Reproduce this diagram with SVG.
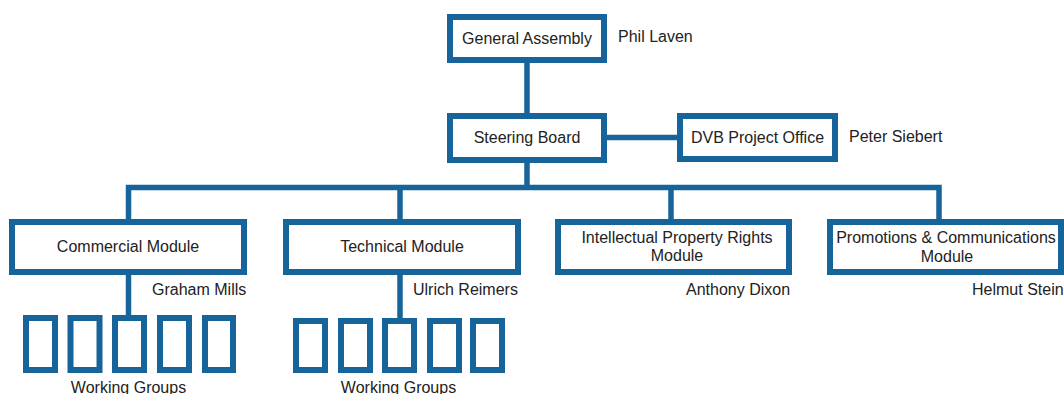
<svg xmlns="http://www.w3.org/2000/svg" width="1064" height="394" viewBox="0 0 1064 394">
<style>
.box{fill:#fff;stroke:#17649a;stroke-width:6}
.wg{fill:#fff;stroke:#17649a;stroke-width:6}
.ln{fill:none;stroke:#17649a;stroke-width:5.5;stroke-linejoin:miter}
text{font-family:"Liberation Sans",Arial,sans-serif;font-size:16px;fill:#222}
.c{text-anchor:middle}
</style>
<rect width="1064" height="394" fill="#fff"/>
<g id="connectors">
<path class="ln" d="M527,63 V113"/>
<path class="ln" d="M607,137.5 H677"/>
<path class="ln" d="M527,163 V187.5"/>
<path class="ln" d="M128.5,220 V187.5 H939 V220"/>
<path class="ln" d="M400,187.5 V220"/>
<path class="ln" d="M671,187.5 V220"/>
<path class="ln" d="M128.5,275 V316"/>
<path class="ln" d="M400,275 V319"/>
</g>
<g id="general-assembly">
<rect class="box" x="450" y="17" width="154" height="43"/>
<text class="c" x="527" y="44">General Assembly</text>
<text x="618" y="42">Phil Laven</text>
</g>
<g id="steering-board">
<rect class="box" x="450" y="116" width="154" height="44"/>
<text class="c" x="527" y="143">Steering Board</text>
</g>
<g id="dvb-project-office">
<rect class="box" x="680" y="116" width="155" height="43"/>
<text class="c" x="757.5" y="143">DVB Project Office</text>
<text x="849" y="142">Peter Siebert</text>
</g>
<g id="commercial-module">
<rect class="box" x="12" y="222" width="232" height="50"/>
<text class="c" x="128" y="252">Commercial Module</text>
<text x="152" y="295">Graham Mills</text>
</g>
<g id="technical-module">
<rect class="box" x="286" y="222" width="232" height="50"/>
<text class="c" x="402" y="252">Technical Module</text>
<text x="413" y="295">Ulrich Reimers</text>
</g>
<g id="ipr-module">
<rect class="box" x="558" y="222" width="231" height="50"/>
<text class="c" x="677" y="243">Intellectual Property Rights</text>
<text class="c" x="677" y="261">Module</text>
<text x="686" y="295">Anthony Dixon</text>
</g>
<g id="pc-module">
<rect class="box" x="830" y="222" width="231" height="50"/>
<text class="c" x="946" y="243">Promotions &amp; Communications</text>
<text class="c" x="947" y="262">Module</text>
<text x="972" y="295">Helmut Stein</text>
</g>
<g id="commercial-working-groups">
<rect class="wg" x="26" y="318" width="29" height="52"/>
<rect class="wg" x="70.5" y="318" width="29" height="52"/>
<rect class="wg" x="115" y="318" width="29" height="52"/>
<rect class="wg" x="160" y="318" width="29" height="52"/>
<rect class="wg" x="205" y="318" width="28" height="52"/>
<text class="c" x="128.5" y="393">Working Groups</text>
</g>
<g id="technical-working-groups">
<rect class="wg" x="296" y="321" width="29" height="49"/>
<rect class="wg" x="341" y="321" width="29" height="49"/>
<rect class="wg" x="385" y="321" width="29" height="49"/>
<rect class="wg" x="430" y="321" width="29" height="49"/>
<rect class="wg" x="473" y="321" width="29" height="49"/>
<text class="c" x="398.5" y="393">Working Groups</text>
</g>
</svg>
